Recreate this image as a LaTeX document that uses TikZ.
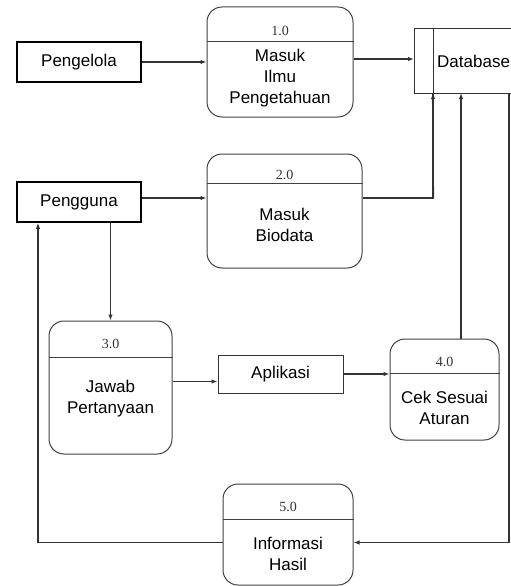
\documentclass[tikz,border=0pt]{standalone}
\usepackage{fontspec}
\setmainfont{Liberation Sans}
\newfontfamily\numfont{Liberation Serif}
\usetikzlibrary{arrows.meta}
\tikzset{
  entity/.style = {draw=black, line width=1.8pt, minimum width=124pt, minimum height=40pt, inner sep=0pt, font=\fontsize{17}{20}\selectfont},
  proc/.style = {draw=black!75, line width=1pt, rounded corners=15pt, inner sep=0pt},
  procsep/.style = {draw=black!75, line width=1pt},
  procnum/.style = {font=\numfont\fontsize{14}{16}\selectfont, text=black!80, inner sep=0pt},
  proctext/.style = {align=center, font=\fontsize{17}{21}\selectfont, inner sep=0pt},
  store/.style = {draw=black!80, line width=1pt},
  flowbox/.style = {draw=black!80, line width=1pt, minimum width=125pt, minimum height=38pt, inner sep=0pt, font=\fontsize{17}{20}\selectfont},
  flow/.style = {draw=black!80, line width=1.1pt, -{Latex[length=6pt,width=4.5pt]}},
  link/.style = {draw=black!80, line width=1.1pt}
}
\begin{document}
\begin{tikzpicture}[x=1pt, y=-1pt]

    \useasboundingbox (0,0) rectangle (511,586);

    % Entities
    \node[entity] (Pengelola) at (79,62) {Pengelola};
    \node[entity] (Pengguna) at (79,202) {Pengguna};

    % Data store
    \draw[store] (530,29) -- (414,29) -- (414,93) -- (530,93);
    \draw[store] (433,29) -- (433,93);
    \node[anchor=west, inner sep=0pt, font=\fontsize{17}{20}\selectfont] (DB) at (437,61) {Database};
    \coordinate (DBa) at (433,93);
    \coordinate (DBb) at (461,93);
    \coordinate (DBc) at (509,93);

    % Processes
    \node[proc, minimum width=146pt, minimum height=110pt] (P1) at (280,62) {};
    \draw[procsep] (P1.west |- 0,42) -- (P1.east |- 0,42);
    \node[procnum] (N1) at (280,31) {1.0};
    \node[proctext] (T1) at (280,78) {Masuk\\Ilmu\\Pengetahuan};

    \node[proc, minimum width=155pt, minimum height=114pt] (P2) at (284.5,211) {};
    \draw[procsep] (P2.west |- 0,183) -- (P2.east |- 0,183);
    \node[procnum] (N2) at (284.5,175) {2.0};
    \node[proctext] (T2) at (284.5,225) {Masuk\\Biodata};

    \node[proc, minimum width=123pt, minimum height=133pt] (P3) at (110.5,387.5) {};
    \draw[procsep] (P3.west |- 0,357) -- (P3.east |- 0,357);
    \node[procnum] (N3) at (110.5,344) {3.0};
    \node[proctext] (T3) at (110.5,399) {Jawab\\Pertanyaan};

    \node[proc, minimum width=109pt, minimum height=101pt] (P4) at (444.5,389.5) {};
    \draw[procsep] (P4.west |- 0,373) -- (P4.east |- 0,373);
    \node[procnum] (N4) at (444.5,362) {4.0};
    \node[proctext] (T4) at (444.5,408) {Cek Sesuai\\Aturan};

    \node[proc, minimum width=130pt, minimum height=101pt] (P5) at (288,534.5) {};
    \draw[procsep] (P5.west |- 0,519) -- (P5.east |- 0,519);
    \node[procnum] (N5) at (288,507) {5.0};
    \node[proctext] (T5) at (288,554) {Informasi\\Hasil};

    % Flow box
    \node[flowbox] (App) at (280.5,374) {Aplikasi};

    % Flows
    \draw[flow] (Pengelola.east) -- (P1.west);
    \draw[flow] ([yshift=3]P1.east) -- ([yshift=3]P1.east -| 414,0);
    \draw[flow] ([yshift=4]Pengguna.east) -- ([yshift=4]Pengguna.east -| P2.west);
    \draw[link] ([yshift=4]Pengguna.east -| P2.east) -| (DBa);
    \draw[flow] ([yshift=4]Pengguna.east -| P2.east) ++(71,0) -- (DBa);
    \draw[flow] (P4.north -| DBb) -- (DBb);
    \draw[flow] (Pengguna.south -| P3.north) -- (P3.north);
    \draw[flow] ([yshift=6]P3.east) -- ([yshift=6]P3.east -| App.west);
    \draw[flow] (App.east) -- (App.east -| P4.west);
    \draw[flow] (DBc) |- ([yshift=-8]P5.east);
    \draw[flow] ([yshift=-8]P5.west) -| ([xshift=-41]Pengguna.south);

\end{tikzpicture}
\end{document}
